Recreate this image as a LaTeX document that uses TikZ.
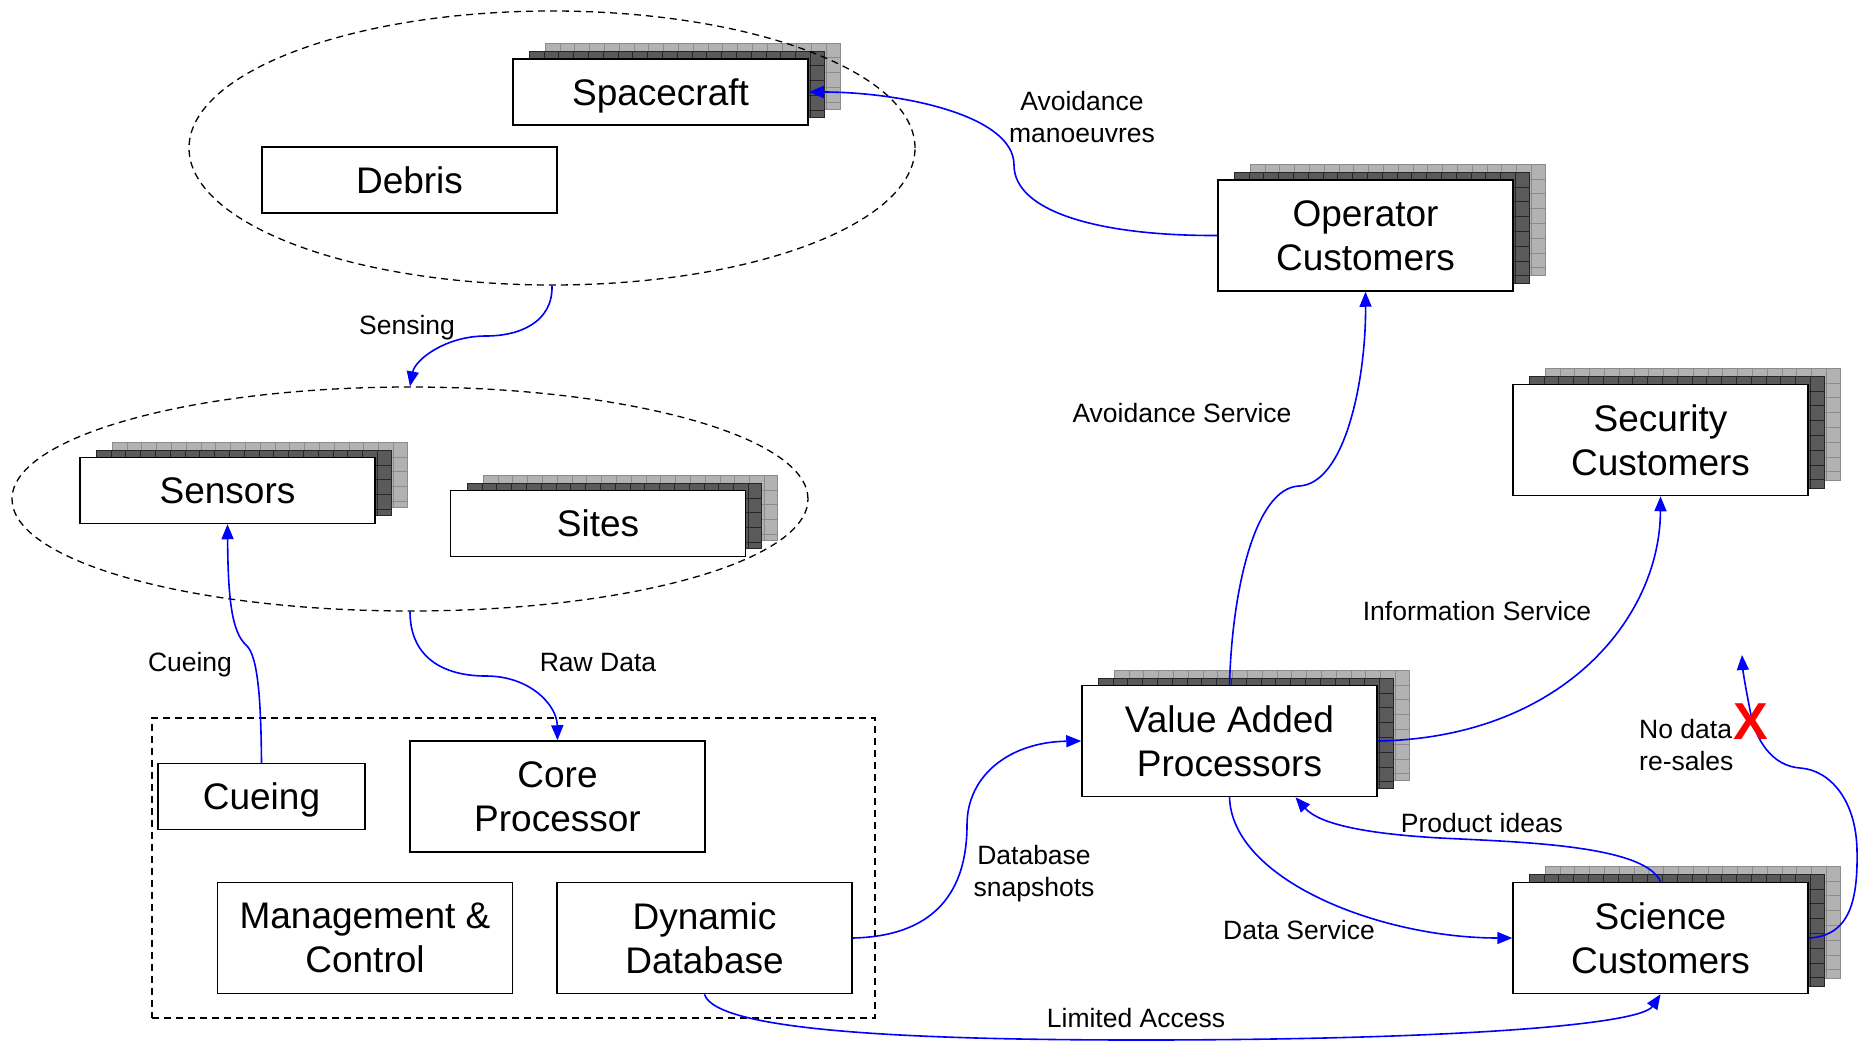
\documentclass[tikz,border=0pt]{standalone}
\usepackage{fontspec}
\setmainfont{Liberation Sans}
\usetikzlibrary{arrows.meta,shapes.geometric,calc}

\definecolor{lightlayer}{HTML}{B2B2B2}
\definecolor{lightgrid}{HTML}{8C8C8C}
\definecolor{darklayer}{HTML}{5A5A5A}
\definecolor{darkgrid}{HTML}{262626}
\definecolor{flowblue}{HTML}{0000FF}
\definecolor{crossred}{HTML}{FF0000}

\newcommand{\boxfont}{\fontsize{37}{44}\selectfont}
\newcommand{\labfont}{\fontsize{26.5}{32}\selectfont}

% one grid-ruled layer of a stacked box: x1, y1, x2, y2, fill colour, grid colour
\newcommand{\gridlayer}[6]{%
  \begin{scope}
    \clip (#1,#2) rectangle (#3,#4);
    \fill[#5] (#1,#2) rectangle (#3,#4);
    \foreach \k in {1,...,21}
      \draw[#6, line width=0.6pt] ({#1+\k*14.8},#2) -- ({#1+\k*14.8},#4);
    \foreach \k in {1,...,8}
      \draw[#6, line width=0.6pt] (#1,{#2+\k*14.8}) -- (#3,{#2+\k*14.8});
  \end{scope}
  \draw[#6, line width=0.8pt] (#1,#2) rectangle (#3,#4);
}
% the two layers stacked behind a front box with corners (x1,y1) and (x2,y2)
\newcommand{\stackbehind}[4]{%
  \gridlayer{#1+32}{#2-16}{#3+32}{#4-16}{lightlayer}{lightgrid}
  \gridlayer{#1+16}{#2-8}{#3+16}{#4-8}{darklayer}{darkgrid}
}

\begin{document}
\begin{tikzpicture}[x=1pt,y=-1pt,
  box/.style={draw, fill=white, line width=1.5pt, minimum width=295pt,
    minimum height=66pt, inner sep=0pt, align=center, font=\boxfont},
  onebox/.style={box, text height=26.5pt, text depth=0pt},
  tallbox/.style={box, minimum height=111pt},
  group/.style={draw, dashed, dash pattern=on 7pt off 5pt, line width=1.3pt},
  flow/.style={draw=flowblue, line width=1.6pt,
    -{Triangle[length=15pt,width=12pt]}, fill=none},
  lab/.style={font=\labfont, align=center, inner sep=0pt},
  onelab/.style={lab, text height=19.5pt, text depth=0pt}]

\useasboundingbox (0,0) rectangle (1860,1041);

% shadow stacks behind the multi-copy boxes
\stackbehind{513}{59}{808}{125}
\stackbehind{80}{458}{375}{523}
\stackbehind{451}{491}{745}{556}
\stackbehind{1218}{180}{1513}{291}
\stackbehind{1513}{384}{1808}{496}
\stackbehind{1082}{686}{1377}{796}
\stackbehind{1513}{882}{1808}{994}

% environment groupings
\node[group, ellipse, minimum width=726pt, minimum height=274pt, inner sep=0pt]
  (space-env) at (552,148) {};
\node[group, ellipse, minimum width=796pt, minimum height=224pt, inner sep=0pt]
  (sensor-env) at (410,499) {};
\node[group, rectangle, minimum width=723pt, minimum height=300pt, inner sep=0pt]
  (system) at (513.5,868) {};

% objects in orbit
\node[onebox] (spacecraft) at (660.5,92) {Spacecraft};
\node[onebox] (debris) at (409.5,180) {Debris};

% sensor network
\node[onebox] (sensors) at (227.5,490.5) {Sensors};
\node[onebox] (sites) at (598,523.5) {Sites};

% processing system
\node[onebox, minimum width=207pt] (cueing) at (261.5,796.5) {Cueing};
\node[tallbox] (core) at (557.5,796.5) {Core\\Processor};
\node[tallbox] (mgmt) at (365,938) {Management \&\\Control};
\node[tallbox] (dyndb) at (704.5,938) {Dynamic\\Database};

% downstream users
\node[tallbox] (operator) at (1365.5,235.5) {Operator\\Customers};
\node[tallbox] (security) at (1660.5,440) {Security\\Customers};
\node[tallbox] (vap) at (1229.5,741) {Value Added\\Processors};
\node[tallbox] (science) at (1660.5,938) {Science\\Customers};

% flows
\draw[flow] (operator.west) .. controls (1100,236) and (1014,212) .. (1014,165)
  .. controls (1014,115) and (900,92) .. (spacecraft.east);
\draw[flow] (space-env.south) .. controls (553,322) and (520,336) .. (486,336)
  .. controls (445,336) and (415,360) .. (sensor-env.north);
\draw[flow] (cueing.north) .. controls (261,700) and (258,655) .. (246,645)
  .. controls (232,632) and (228,600) .. (sensors.south);
\draw[flow] (sensor-env.south) .. controls (410,655) and (440,676) .. (486,676)
  .. controls (530,676) and (557,705) .. (core.north);
\draw[flow] (dyndb.east) .. controls (945,936) and (967,880) .. (967,825)
  .. controls (967,775) and (1010,742) .. (vap.west);
\draw[flow] (vap.north) .. controls (1232,590) and (1255,488) .. (1299,486)
  .. controls (1345,484) and (1366,380) .. (operator.south);
\draw[flow] (vap.east) .. controls (1560,738) and (1660,620) .. (security.south);
\draw[flow] (science.north) .. controls (1645,845) and (1520,842) .. (1440,838)
  .. controls (1370,834) and (1320,825) .. ($(vap.south)+(66,0)$);
\draw[flow] (vap.south) .. controls (1232,880) and (1380,938) .. (science.west);
\draw[flow] (dyndb.south) .. controls (715,1030) and (900,1040) .. (1140,1040)
  .. controls (1450,1040) and (1640,1025) .. (science.south);
\coordinate (resale) at (1742,655);
\draw[flow] (science.east) .. controls (1850,936) and (1858,900) .. (1857,850)
  .. controls (1856,800) and (1830,770) .. (1800,768)
  .. controls (1772,766) and (1755,740) .. (1750,710)
  .. controls (1746,690) and (1743,672) .. (resale);

% flow labels
\node[lab] (l-manoeuvres) at (1082,117) {Avoidance\\manoeuvres};
\node[onelab] (l-sensing) at (407,325) {Sensing};
\node[onelab] (l-cueing) at (190,662) {Cueing};
\node[onelab] (l-raw) at (598,662) {Raw Data};
\node[lab] (l-snap) at (1034,874) {Database\\snapshots};
\node[onelab] (l-avoid) at (1182,413) {Avoidance Service};
\node[onelab] (l-info) at (1477,611) {Information Service};
\node[onelab] (l-ideas) at (1482,823) {Product ideas};
\node[onelab] (l-data) at (1299,930) {Data Service};
\node[onelab] (l-limited) at (1136,1018) {Limited Access};
\node[lab, align=left, anchor=west] (l-resale) at (1639,745) {No data\\re-sales};
\node[font=\fontsize{52}{52}\selectfont\bfseries, text=crossred, inner sep=0pt]
  (cross) at (1751,722) {X};

\end{tikzpicture}
\end{document}
